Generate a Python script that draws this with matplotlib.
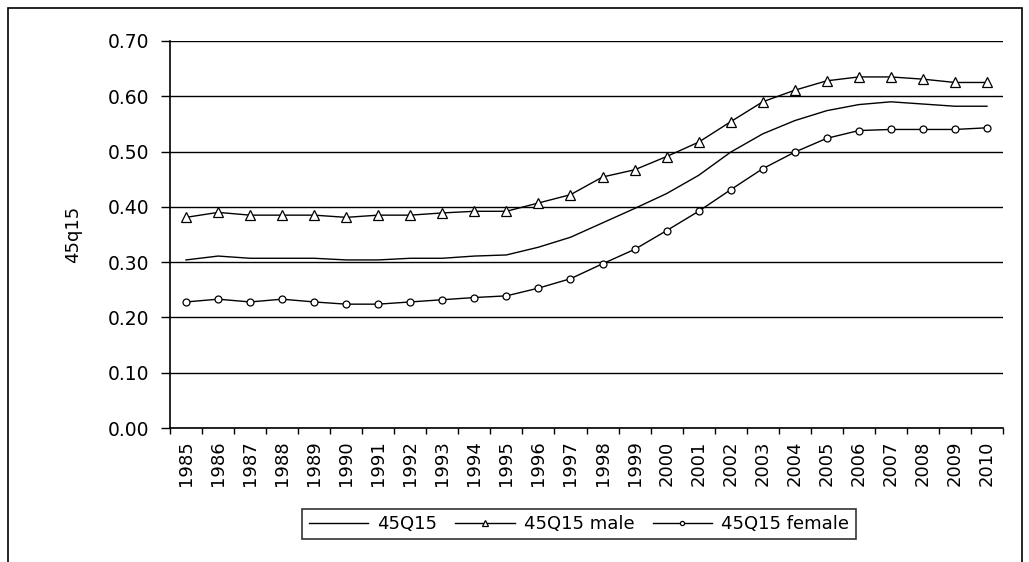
import matplotlib.pyplot as plt
import matplotlib.patches as mpatches
import numpy as np

plt.rcParams['font.family'] = ['DejaVu Sans']

# Данные
years = [str(y) for y in range(1985, 2011)]
total = [0.304, 0.311, 0.307, 0.307, 0.307, 0.304, 0.304, 0.307, 0.307, 0.311,
         0.313, 0.327, 0.345, 0.371, 0.397, 0.424, 0.457, 0.499, 0.532, 0.556,
         0.574, 0.585, 0.590, 0.586, 0.582, 0.582]
male = [0.381, 0.390, 0.385, 0.385, 0.385, 0.381, 0.385, 0.385, 0.389, 0.392,
        0.392, 0.407, 0.422, 0.454, 0.467, 0.491, 0.517, 0.554, 0.590, 0.611,
        0.628, 0.635, 0.635, 0.631, 0.625, 0.625]
female = [0.228, 0.233, 0.228, 0.233, 0.228, 0.224, 0.224, 0.228, 0.232, 0.236,
          0.239, 0.253, 0.270, 0.297, 0.323, 0.357, 0.392, 0.431, 0.469, 0.499,
          0.524, 0.538, 0.540, 0.540, 0.540, 0.543]
yticks = [0.0, 0.1, 0.2, 0.3, 0.4, 0.5, 0.6, 0.7]

fs = 13

fig = plt.figure(figsize=(10.29, 5.62), dpi=100)
ax = fig.add_axes([170/1029, 1 - 428/562, 833/1029, 387/562])

x = np.arange(len(years))
ax.plot(x, total, '-', color='black', lw=1.0, label='45Q15')
ax.plot(x, male, '-', color='black', lw=1.0, marker='^', ms=6.5,
        mfc='white', mec='black', mew=0.9, label='45Q15 male')
ax.plot(x, female, '-', color='black', lw=1.0, marker='o', ms=5,
        mfc='white', mec='black', mew=0.9, label='45Q15 female')

ax.set_xlim(-0.5, len(years) - 0.5)
ax.set_ylim(0, 0.7)
ax.set_yticks(yticks)
ax.set_yticklabels(['%.2f' % v for v in yticks], fontsize=13.5)
ax.yaxis.grid(True, color='black', lw=1.0)
ax.set_axisbelow(True)

# подписи по центру категорий, засечки между категориями
ax.set_xticks(x)
ax.set_xticklabels(years, rotation=90, fontsize=fs)
ax.tick_params(axis='x', length=0, pad=9)
ax.set_xticks(np.arange(-0.5, len(years)), minor=True)
ax.tick_params(axis='x', which='minor', length=4, width=1, direction='out')
ax.tick_params(axis='y', length=6.5, width=1, direction='out', pad=8.5)

for s in ['top', 'right']:
    ax.spines[s].set_visible(False)
for s in ['left', 'bottom']:
    ax.spines[s].set_linewidth(1.2)

ax.set_ylabel('45q15', fontsize=fs, labelpad=18)

leg = fig.legend(loc='center', bbox_to_anchor=(579/1029, 1 - 524/562), ncol=3,
                 fontsize=fs, frameon=True, fancybox=False, edgecolor='black',
                 handlelength=3.3, handletextpad=0.5, columnspacing=1.0,
                 borderpad=0.35, borderaxespad=0, markerscale=0.6)
leg.get_frame().set_linewidth(1.2)

# рамка вокруг всей картинки
fig.patches.append(mpatches.Rectangle((8/1029, -0.1), 1014/1029, 1.1 - 8/562,
                                      transform=fig.transFigure, fill=False,
                                      edgecolor='black', lw=1.2))

fig.savefig('out.png', dpi=100)
